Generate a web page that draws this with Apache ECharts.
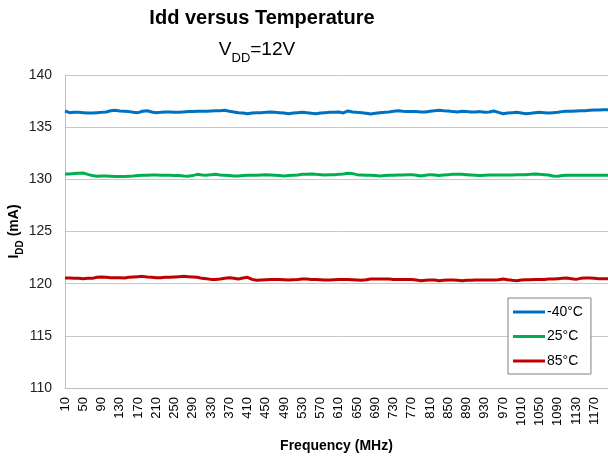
<!DOCTYPE html>
<html>
<head>
<meta charset="utf-8">
<script src="https://cdn.jsdelivr.net/npm/echarts@6/dist/echarts.min.js"></script>
<style>html,body{margin:0;padding:0;background:#fff}#c{width:608px;height:458px}</style>
</head>
<body>
<div id="c"></div>
<script>
const frequencies = [10,20,30,40,50,60,70,80,90,100,110,120,130,140,150,160,170,180,190,200,
210,220,230,240,250,260,270,280,290,300,310,320,330,340,350,360,370,380,390,400,
410,420,430,440,450,460,470,480,490,500,510,520,530,540,550,560,570,580,590,600,
610,620,630,640,650,660,670,680,690,700,710,720,730,740,750,760,770,780,790,800,
810,820,830,840,850,860,870,880,890,900,910,920,930,940,950,960,970,980,990,1000,
1010,1020,1030,1040,1050,1060,1070,1080,1090,1100,1110,1120,1130,1140,1150,1160,1170,1180,1190,1200];

const idd_m40 = [136.55,136.39,136.42,136.42,136.39,136.36,136.36,136.39,136.42,136.46,
136.58,136.62,136.55,136.52,136.49,136.42,136.39,136.52,136.58,136.46,
136.39,136.42,136.46,136.46,136.42,136.42,136.46,136.49,136.49,136.52,
136.52,136.52,136.55,136.58,136.58,136.62,136.52,136.46,136.39,136.36,
136.29,136.36,136.39,136.39,136.42,136.46,136.42,136.39,136.36,136.29,
136.36,136.39,136.42,136.39,136.33,136.29,136.36,136.39,136.42,136.42,
136.46,136.36,136.55,136.46,136.42,136.39,136.33,136.26,136.33,136.39,
136.42,136.46,136.52,136.58,136.52,136.49,136.49,136.49,136.46,136.46,
136.52,136.58,136.62,136.58,136.55,136.49,136.46,136.52,136.49,136.46,
136.46,136.49,136.42,136.46,136.55,136.42,136.29,136.36,136.39,136.42,
136.36,136.29,136.33,136.39,136.42,136.39,136.36,136.39,136.42,136.49,
136.52,136.52,136.55,136.58,136.58,136.62,136.65,136.65,136.68,136.68];

const idd_25 = [130.52,130.52,130.55,130.58,130.61,130.48,130.36,130.29,130.32,130.32,
130.29,130.26,130.26,130.26,130.29,130.32,130.36,130.39,130.39,130.42,
130.42,130.39,130.39,130.39,130.36,130.36,130.32,130.29,130.36,130.48,
130.42,130.39,130.45,130.48,130.42,130.39,130.36,130.32,130.32,130.36,
130.39,130.39,130.39,130.42,130.45,130.42,130.39,130.36,130.32,130.36,
130.39,130.42,130.48,130.48,130.52,130.48,130.45,130.42,130.45,130.45,
130.48,130.52,130.58,130.55,130.45,130.42,130.39,130.39,130.36,130.32,
130.36,130.39,130.39,130.42,130.42,130.45,130.45,130.39,130.32,130.39,
130.45,130.42,130.36,130.42,130.45,130.48,130.48,130.48,130.45,130.42,
130.39,130.36,130.39,130.42,130.42,130.42,130.42,130.42,130.42,130.45,
130.45,130.45,130.48,130.52,130.48,130.45,130.42,130.32,130.29,130.36,
130.39,130.39,130.39,130.39,130.39,130.39,130.39,130.39,130.39,130.39];

const idd_85 = [120.54,120.54,120.51,120.51,120.48,120.51,120.51,120.61,120.64,120.61,
120.57,120.57,120.57,120.54,120.61,120.64,120.67,120.70,120.64,120.61,
120.57,120.57,120.61,120.61,120.64,120.67,120.70,120.67,120.64,120.61,
120.51,120.48,120.41,120.41,120.45,120.51,120.57,120.51,120.45,120.54,
120.61,120.41,120.32,120.35,120.38,120.41,120.41,120.41,120.38,120.35,
120.38,120.41,120.45,120.45,120.41,120.41,120.38,120.35,120.35,120.38,
120.41,120.41,120.41,120.38,120.35,120.32,120.38,120.45,120.45,120.45,
120.45,120.45,120.41,120.41,120.41,120.41,120.41,120.35,120.28,120.32,
120.35,120.35,120.28,120.32,120.35,120.35,120.32,120.28,120.32,120.32,
120.35,120.35,120.35,120.35,120.35,120.38,120.45,120.38,120.32,120.28,
120.35,120.38,120.38,120.41,120.41,120.41,120.45,120.45,120.48,120.51,
120.54,120.48,120.41,120.51,120.54,120.54,120.51,120.48,120.48,120.48];

const seriesNames = ['-40°C', '25°C', '85°C'];
const seriesColors = ['#0070C0', '#00B050', '#C00000'];
const yTicks = { min: 110, max: 140, step: 5 };

const FONT = '"Liberation Sans", Arial, sans-serif';
const chart = echarts.init(document.getElementById('c'), null, { renderer: 'canvas' });

chart.setOption({
  animation: false,
  backgroundColor: '#ffffff',
  textStyle: { fontFamily: FONT },
  title: [
    {
      text: 'Idd versus Temperature',
      left: 262, top: 6, textAlign: 'center', padding: 0,
      textStyle: { fontFamily: FONT, fontSize: 20, fontWeight: 'bold', color: '#000', lineHeight: 24 }
    },
    {
      text: '{v|V}{s|DD}{v|=12V}',
      left: 257, top: 40, textAlign: 'center', padding: 0,
      textStyle: {
        fontFamily: FONT, color: '#000', fontWeight: 'normal',
        rich: {
          v: { fontFamily: FONT, fontSize: 19, fontWeight: 'normal', lineHeight: 22, verticalAlign: 'top', color: '#000' },
          s: { fontFamily: FONT, fontSize: 13, fontWeight: 'normal', lineHeight: 36, verticalAlign: 'middle', color: '#000' }
        }
      }
    }
  ],
  legend: {
    orient: 'vertical',
    left: 508, top: 298,
    padding: [7, 8, 6, 5],
    itemWidth: 32, itemHeight: 3, itemGap: 10.5,
    icon: 'rect',
    backgroundColor: '#ffffff',
    borderColor: '#808080', borderWidth: 1,
    textStyle: { fontFamily: FONT, fontSize: 14, color: '#000', padding: [0, 0, 0, -3] },
    data: seriesNames
  },
  grid: { left: 65, right: 0, top: 75, bottom: 70, containLabel: false, outerBoundsMode: 'none' },
  xAxis: {
    type: 'category',
    data: frequencies,
    boundaryGap: false,
    name: 'Frequency (MHz)',
    nameLocation: 'middle',
    nameGap: 51,
    nameMoveOverlap: false,
    nameTextStyle: { fontFamily: FONT, fontSize: 14, fontWeight: 'bold', color: '#000' },
    axisLine: { show: true, lineStyle: { color: '#bfbfbf', width: 1 } },
    axisTick: { show: false },
    axisLabel: { interval: 3, rotate: 90, fontFamily: FONT, fontSize: 13, color: '#000', margin: 9 },
    splitLine: { show: false }
  },
  yAxis: {
    type: 'value',
    min: yTicks.min, max: yTicks.max, interval: yTicks.step,
    name: '{b|I}{s|DD}{b| (mA)}',
    nameLocation: 'middle',
    nameGap: 32,
    nameMoveOverlap: false,
    nameTextStyle: {
      rich: {
        b: { fontFamily: FONT, fontSize: 14, fontWeight: 'bold', color: '#000', lineHeight: 18, verticalAlign: 'top' },
        s: { fontFamily: FONT, fontSize: 10, fontWeight: 'bold', color: '#000', lineHeight: 26, verticalAlign: 'middle' }
      }
    },
    axisLine: { show: true, lineStyle: { color: '#bfbfbf', width: 1 } },
    axisTick: { show: false },
    axisLabel: { fontFamily: FONT, fontSize: 14, color: '#222', margin: 13 },
    splitLine: { show: true, lineStyle: { color: '#c8c8c8', width: 1 } }
  },
  series: [
    { name: seriesNames[0], type: 'line', data: idd_m40, showSymbol: false, symbol: 'none',
      lineStyle: { color: seriesColors[0], width: 3 }, itemStyle: { color: seriesColors[0] } },
    { name: seriesNames[1], type: 'line', data: idd_25, showSymbol: false, symbol: 'none',
      lineStyle: { color: seriesColors[1], width: 3 }, itemStyle: { color: seriesColors[1] } },
    { name: seriesNames[2], type: 'line', data: idd_85, showSymbol: false, symbol: 'none',
      lineStyle: { color: seriesColors[2], width: 3 }, itemStyle: { color: seriesColors[2] } }
  ]
});
</script>
</body>
</html>
